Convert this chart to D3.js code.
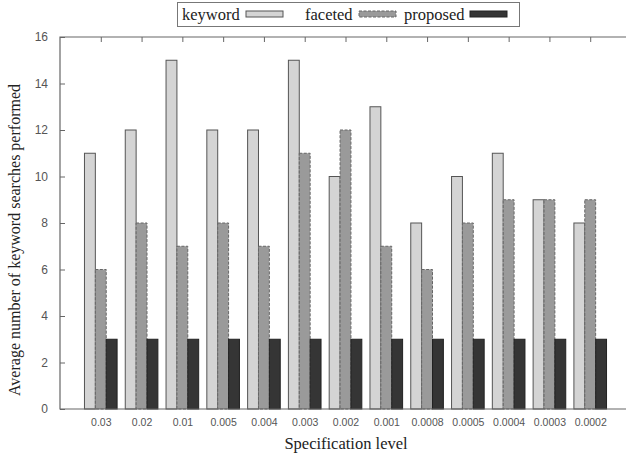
<!DOCTYPE html>
<html><head><meta charset="utf-8">
<script src="https://cdn.jsdelivr.net/npm/d3@7"></script>
<style>body{margin:0;background:#fff}svg{display:block}</style>
</head><body>
<svg id="c" width="626" height="457"></svg>
<script>
const categories = ["0.03","0.02","0.01","0.005","0.004","0.003","0.002","0.001","0.0008","0.0005","0.0004","0.0003","0.0002"];
const keyword  = [11,12,15,12,12,15,10,13,8,10,11,9,8];
const faceted  = [6,8,7,8,7,11,12,7,6,8,9,9,9];
const proposed = [3,3,3,3,3,3,3,3,3,3,3,3,3];
const seriesNames = ["keyword","faceted","proposed"];
const yTicks = [0,2,4,6,8,10,12,14,16];

const series = [
  {name: seriesNames[0], values: keyword,  fill:"#d4d4d4", stroke:"#555", dash:null},
  {name: seriesNames[1], values: faceted,  fill:"#9a9a9a", stroke:"#666", dash:"3,1.5"},
  {name: seriesNames[2], values: proposed, fill:"#353535", stroke:"#222", dash:null}
];

const svg = d3.select("#c");
const L = 60, T = 37, B = 409, R = 631;
const x = d3.scaleLinear().domain([0, categories.length + 1]).range([L, R]);
const y = d3.scaleLinear().domain([0, 16]).range([B, T]);
const step = x(1) - x(0);
const bw = step * 0.8 / 3;

// bars
series.forEach((s, si) => {
  svg.append("g").selectAll("rect").data(s.values).join("rect")
    .attr("x", (d, i) => x(i + 1) - 1.5 * bw + si * bw)
    .attr("y", d => y(d))
    .attr("width", bw)
    .attr("height", d => y(0) - y(d))
    .attr("fill", s.fill)
    .attr("stroke", s.stroke)
    .attr("stroke-width", 1)
    .attr("stroke-dasharray", s.dash);
});

// frame
svg.append("path").attr("d", `M${R},${T}H${L}V${B}H${R}`)
  .attr("fill", "none").attr("stroke", "#666").attr("stroke-width", 1.2);

// y axis ticks (inward)
const yAxis = d3.axisLeft(y).tickValues(yTicks).tickSize(-5).tickPadding(12).tickFormat(d3.format("d"));
const gy = svg.append("g").attr("transform", `translate(${L},0)`).call(yAxis);
gy.select(".domain").remove();
gy.selectAll("line").attr("stroke", "#666");
gy.selectAll("text").attr("font-family", "Liberation Sans, Arial, sans-serif").attr("font-size", 12).attr("fill", "#555");

// x axis labels at bottom
const idx = categories.map((c, i) => i + 1);
const xAxis = d3.axisBottom(x).tickValues(idx).tickSize(0).tickPadding(10)
  .tickFormat(d => categories[d - 1]);
const gx = svg.append("g").attr("transform", `translate(0,${B})`).call(xAxis);
gx.select(".domain").remove();
gx.selectAll("text").attr("font-family", "Liberation Sans, Arial, sans-serif").attr("font-size", 10.5).attr("fill", "#555");

// top ticks (inward)
const gt = svg.append("g").attr("transform", `translate(0,${T})`)
  .call(d3.axisTop(x).tickValues(idx).tickSize(-5).tickFormat(""));
gt.select(".domain").remove();
gt.selectAll("line").attr("stroke", "#666");

// axis titles
svg.append("text").attr("x", 346).attr("y", 449).attr("text-anchor", "middle")
  .attr("font-family", "Liberation Serif, Times New Roman, serif").attr("font-size", 16.5).attr("fill", "#222")
  .text("Specification level");
svg.append("text").attr("transform", "translate(20,240) rotate(-90)").attr("text-anchor", "middle")
  .attr("font-family", "Liberation Serif, Times New Roman, serif").attr("font-size", 16).attr("fill", "#222")
  .text("Average number of keyword searches performed");

// legend
const lg = svg.append("g");
lg.append("rect").attr("x", 177.5).attr("y", 2.5).attr("width", 342).attr("height", 24)
  .attr("fill", "#fff").attr("stroke", "#777");
const legendPos = [{tx:182, sx:246}, {tx:305, sx:359}, {tx:404, sx:470}];
series.forEach((s, i) => {
  lg.append("text").attr("x", legendPos[i].tx).attr("y", 19.5)
    .attr("font-family", "Liberation Serif, Times New Roman, serif").attr("font-size", 16.5).attr("fill", "#222")
    .text(s.name);
  lg.append("rect").attr("x", legendPos[i].sx).attr("y", 11).attr("width", 37).attr("height", 6)
    .attr("fill", s.fill).attr("stroke", s.stroke).attr("stroke-dasharray", s.dash);
});
</script>
</body></html>
